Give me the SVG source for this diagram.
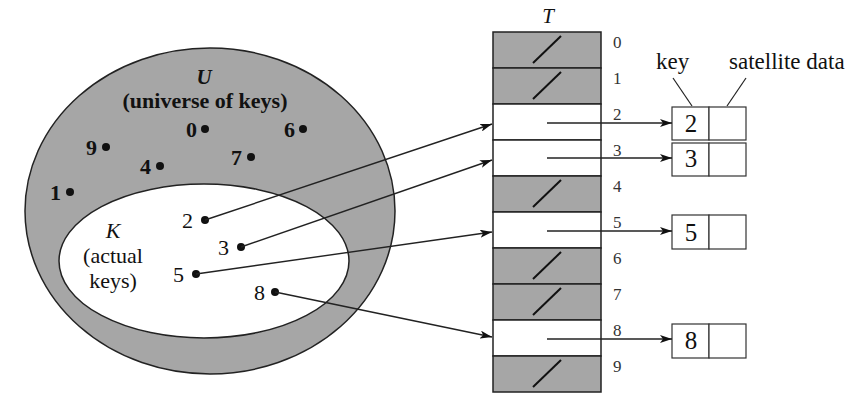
<svg xmlns="http://www.w3.org/2000/svg" width="858" height="394" viewBox="0 0 858 394">
<defs>
<marker id="ah" viewBox="0 0 12 8" refX="12" refY="4" markerWidth="12" markerHeight="8" markerUnits="userSpaceOnUse" orient="auto">
<path d="M0,0 L12,4 L0,8 L3,4 Z" fill="#111"/>
</marker>
</defs>
<style>
text{font-family:"Liberation Serif","Times New Roman",serif;fill:#111}
.lbl{font-size:22px;font-weight:bold}
.kd{font-size:22px}
.idx{font-size:17px;fill:#333}
.cell{stroke:#222;stroke-width:1.5}
.g{fill:#a6a6a6}
.w{fill:#fff}
.sl{stroke:#111;stroke-width:2}
.box{fill:#fff;stroke:#333;stroke-width:1.2}
.dot{fill:#111}
.con{stroke:#222;stroke-width:1.4;fill:none;marker-end:url(#ah)}
.ptr{stroke:#222;stroke-width:1.2}
.bd{font-size:25px}
</style>
<rect width="858" height="394" fill="#fff"/>

<g id="universe">
<ellipse cx="210" cy="211" rx="185" ry="163" fill="#a6a6a6" stroke="#222" stroke-width="1.5"/>
<text x="204" y="84" font-size="21" font-weight="bold" font-style="italic" text-anchor="middle">U</text>
<text x="205" y="108" class="lbl" text-anchor="middle">(universe of keys)</text>
</g>
<g id="actual">
<ellipse cx="204" cy="261" rx="145" ry="77" fill="#fff" stroke="#222" stroke-width="1.5"/>
<text x="113" y="238" font-size="22" font-style="italic" text-anchor="middle">K</text>
<text x="113" y="263" font-size="22" text-anchor="middle">(actual</text>
<text x="113" y="288" font-size="22" text-anchor="middle">keys)</text>
</g>

<g id="keys">
<g id="k0"><text x="186" y="137" class="lbl">0</text><circle cx="205" cy="129" r="4" class="dot"/></g>
<g id="k6"><text x="284" y="137" class="lbl">6</text><circle cx="303" cy="129" r="4" class="dot"/></g>
<g id="k9"><text x="86" y="155" class="lbl">9</text><circle cx="106" cy="147" r="4" class="dot"/></g>
<g id="k4"><text x="140" y="174" class="lbl">4</text><circle cx="160" cy="166" r="4" class="dot"/></g>
<g id="k7"><text x="231" y="165" class="lbl">7</text><circle cx="251" cy="157" r="4" class="dot"/></g>
<g id="k1"><text x="50" y="200" class="lbl">1</text><circle cx="70" cy="192" r="4" class="dot"/></g>
<g id="k2"><text x="182" y="228" class="kd">2</text><circle cx="205" cy="220" r="4" class="dot"/></g>
<g id="k3"><text x="218" y="255" class="kd">3</text><circle cx="241" cy="247" r="4" class="dot"/></g>
<g id="k5"><text x="173" y="282" class="kd">5</text><circle cx="196" cy="274" r="4" class="dot"/></g>
<g id="k8"><text x="254" y="300" class="kd">8</text><circle cx="275" cy="292" r="4" class="dot"/></g>
</g>

<g id="table">
<text x="548" y="23" font-size="21" font-style="italic" text-anchor="middle">T</text>
<rect x="493" y="32" width="108" height="36" class="cell g"/>
<rect x="493" y="68" width="108" height="36" class="cell g"/>
<rect x="493" y="104" width="108" height="36" class="cell w"/>
<rect x="493" y="140" width="108" height="36" class="cell w"/>
<rect x="493" y="176" width="108" height="36" class="cell g"/>
<rect x="493" y="212" width="108" height="36" class="cell w"/>
<rect x="493" y="248" width="108" height="36" class="cell g"/>
<rect x="493" y="284" width="108" height="36" class="cell g"/>
<rect x="493" y="320" width="108" height="36" class="cell w"/>
<rect x="493" y="356" width="108" height="36" class="cell g"/>
<line x1="533" y1="63" x2="561" y2="36" class="sl"/>
<line x1="533" y1="99" x2="561" y2="72" class="sl"/>
<line x1="533" y1="207" x2="561" y2="180" class="sl"/>
<line x1="533" y1="279" x2="561" y2="252" class="sl"/>
<line x1="533" y1="315" x2="561" y2="288" class="sl"/>
<line x1="533" y1="387" x2="561" y2="360" class="sl"/>
<text x="613" y="48" class="idx">0</text>
<text x="613" y="84" class="idx">1</text>
<text x="613" y="120" class="idx">2</text>
<text x="613" y="156" class="idx">3</text>
<text x="613" y="192" class="idx">4</text>
<text x="613" y="228" class="idx">5</text>
<text x="613" y="264" class="idx">6</text>
<text x="613" y="300" class="idx">7</text>
<text x="613" y="336" class="idx">8</text>
<text x="613" y="372" class="idx">9</text>
</g>

<g id="legend">
<text x="656" y="69" font-size="23">key</text>
<text x="729" y="69" font-size="23">satellite data</text>
<line x1="673" y1="78" x2="692" y2="106" class="ptr"/>
<line x1="746" y1="78" x2="727" y2="106" class="ptr"/>
</g>

<g id="elem2"><rect x="672" y="107" width="37" height="33" class="box"/><rect x="709" y="107" width="37" height="33" class="box"/><text x="691" y="132" class="bd" text-anchor="middle">2</text></g>
<g id="elem3"><rect x="672" y="143" width="37" height="33" class="box"/><rect x="709" y="143" width="37" height="33" class="box"/><text x="691" y="167" class="bd" text-anchor="middle">3</text></g>
<g id="elem5"><rect x="672" y="215" width="37" height="34" class="box"/><rect x="709" y="215" width="37" height="34" class="box"/><text x="691" y="241" class="bd" text-anchor="middle">5</text></g>
<g id="elem8"><rect x="672" y="324" width="37" height="34" class="box"/><rect x="709" y="324" width="37" height="34" class="box"/><text x="691" y="349" class="bd" text-anchor="middle">8</text></g>

<g id="connectors">
<line x1="205" y1="220" x2="492" y2="124" class="con"/>
<line x1="241" y1="247" x2="492" y2="160" class="con"/>
<line x1="196" y1="274" x2="492" y2="232" class="con"/>
<line x1="275" y1="292" x2="492" y2="337" class="con"/>
<line x1="547" y1="123" x2="672" y2="123" class="con"/>
<line x1="547" y1="158" x2="672" y2="158" class="con"/>
<line x1="547" y1="231" x2="672" y2="231" class="con"/>
<line x1="547" y1="339" x2="672" y2="339" class="con"/>
</g>
</svg>
